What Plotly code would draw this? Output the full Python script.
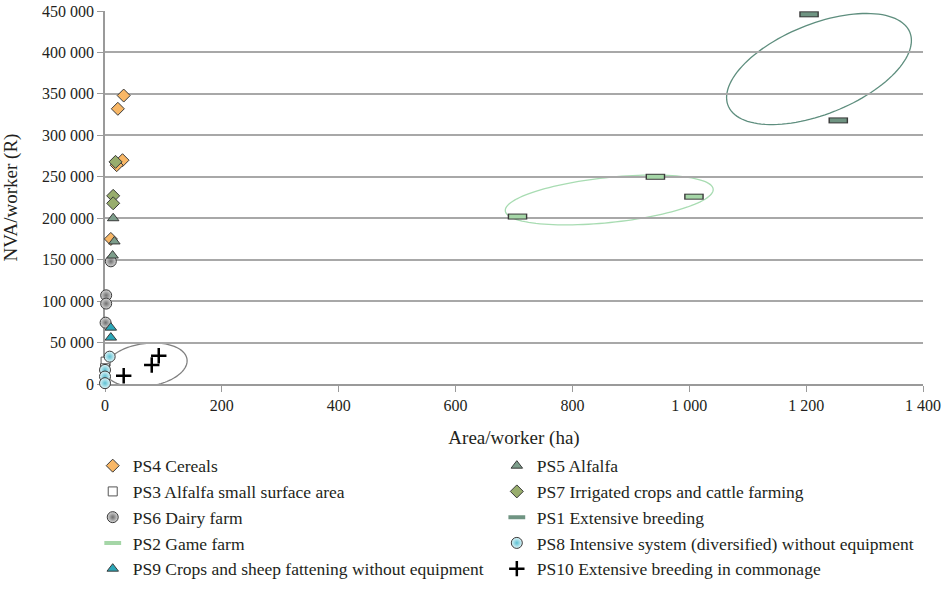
import numpy as np
import plotly.graph_objects as go

# Data: Area/worker (ha) vs NVA/worker (R)
ps4_x = [32, 22, 30, 20, 10]
ps4_y = [348000, 332000, 270000, 264000, 175000]

ps5_x = [14, 16, 13]
ps5_y = [200000, 172000, 155000]

ps3_x = [1, 0]
ps3_y = [27000, 19000]

ps7_x = [18, 14, 14]
ps7_y = [268000, 227000, 218000]

ps6_x = [10, 2, 2, 1]
ps6_y = [148000, 107000, 97000, 74000]

ps1_x = [1205, 1255]
ps1_y = [446000, 318000]

ps2_x = [706, 942, 1008]
ps2_y = [202000, 250000, 226000]

ps8_x = [8, 0, 0, 0]
ps8_y = [33000, 17000, 9000, 1000]

ps9_x = [10, 10]
ps9_y = [68000, 56000]

ps10_x = [32, 80, 92]
ps10_y = [10000, 23000, 34000]

x_ticks = [0, 200, 400, 600, 800, 1000, 1200, 1400]
y_ticks = list(range(0, 450001, 50000))

FONT = "Liberation Serif"
OUTLINE = "#3a3a3a"

fig = go.Figure()


def add_markers(x, y, name, symbol, color, legend, size=9, line_color=OUTLINE, line_width=1, gradient=None):
    marker = dict(symbol=symbol, color=color, size=size, line=dict(color=line_color, width=line_width))
    if gradient:
        marker["gradient"] = dict(type="radial", color=gradient)
    fig.add_trace(go.Scatter(x=x, y=y, mode="markers", name=name, marker=marker,
                             cliponaxis=False, legend=legend))


def add_bars(x, y, name, color, legend):
    # wide rectangle: dark outline bar under a coloured bar
    fig.add_trace(go.Scatter(x=x, y=y, mode="markers", name=name, showlegend=False, cliponaxis=False,
                             marker=dict(symbol="line-ew", size=14, line=dict(color=OUTLINE, width=6))))
    fig.add_trace(go.Scatter(x=x, y=y, mode="markers", name=name, cliponaxis=False, legend=legend,
                             marker=dict(symbol="line-ew", size=12, color=color, line=dict(color=color, width=4))))


# left legend column
add_markers(ps4_x, ps4_y, "PS4 Cereals", "diamond", "#F8B766", "legend", size=10)
add_markers(ps3_x, ps3_y, "PS3 Alfalfa small surface area", "square", "white", "legend", size=9,
            line_color="#555555")
add_markers(ps6_x, ps6_y, "PS6 Dairy farm", "circle", "#d8d8d8", "legend", size=11, gradient="#6e6e6e")
add_bars(ps2_x, ps2_y, "PS2 Game farm", "#A5D6A7", "legend")
add_markers(ps9_x, ps9_y, "PS9 Crops and sheep fattening without equipment", "triangle-up", "#2AA7B8",
            "legend", size=10)
# right legend column
add_markers(ps5_x, ps5_y, "PS5 Alfalfa", "triangle-up", "#7D9E8B", "legend2", size=10)
add_markers(ps7_x, ps7_y, "PS7 Irrigated crops and cattle farming", "diamond", "#98AD6D", "legend2", size=10)
add_bars(ps1_x, ps1_y, "PS1 Extensive breeding", "#6F9482", "legend2")
add_markers(ps8_x, ps8_y, "PS8 Intensive system (diversified) without equipment", "circle", "#e2f6f9",
            "legend2", size=11, gradient="#5CC0D2")
add_markers(ps10_x, ps10_y, "PS10 Extensive breeding in commonage", "cross-thin", "black", "legend2", size=11,
            line_color="black", line_width=2.5)

# Group ellipses: centre in data units, semi-axes in pixels, tilt in degrees
x_range = [0, 1400]
y_range = [0, 450000]
plot_w, plot_h = 818, 373
ellipses = [
    dict(cx=70, cy=22900, a=41.5, b=21.5, angle=8, color="#808080"),
    dict(cx=863, cy=222000, a=104.5, b=22.5, angle=6, color="#A8DCB2"),
    dict(cx=1222, cy=380000, a=98, b=45, angle=22, color="#5E8E7E"),
]
t = np.linspace(0, 2 * np.pi, 120)
for e in ellipses:
    th = np.radians(e["angle"])
    px = e["a"] * np.cos(t) * np.cos(th) - e["b"] * np.sin(t) * np.sin(th)
    py = e["a"] * np.cos(t) * np.sin(th) + e["b"] * np.sin(t) * np.cos(th)
    ex = e["cx"] + px * (x_range[1] - x_range[0]) / plot_w
    ey = e["cy"] + py * (y_range[1] - y_range[0]) / plot_h
    path = "M " + " L ".join(f"{a:.3f},{b:.3f}" for a, b in zip(ex, ey)) + " Z"
    fig.add_shape(type="path", path=path, xref="x", yref="y", layer="below",
                  line=dict(color=e["color"], width=1.3))

legend_style = dict(orientation="v", yanchor="top", y=-0.171, xanchor="left",
                    font=dict(size=17.5), tracegroupgap=0, bgcolor="rgba(0,0,0,0)")
fig.update_layout(
    width=952, height=598,
    margin=dict(l=105, r=29, t=11, b=214, autoexpand=False),
    plot_bgcolor="white", paper_bgcolor="white",
    separators=". ",
    font=dict(family=FONT, size=16, color="#231f20"),
    legend=dict(x=-0.015, **legend_style),
    legend2=dict(x=0.479, **legend_style),
)

fig.update_xaxes(range=x_range, tickvals=x_ticks, tickformat=",d", showgrid=False, zeroline=False,
                 showline=True, linecolor="#9a9a9a", linewidth=1.5, ticks="outside", ticklen=6,
                 tickcolor="#9a9a9a", layer="below traces", automargin=False,
                 title=dict(text="Area/worker (ha)", standoff=18))
fig.update_yaxes(range=y_range, tickvals=y_ticks, tickformat=",d", showgrid=True, gridcolor="#a8a8a8",
                 gridwidth=1.5, zeroline=False, showline=True, linecolor="#9a9a9a", linewidth=1.5,
                 ticks="outside", ticklen=6, tickcolor="#9a9a9a", layer="below traces", automargin=False,
                 ticklabeloverflow="allow", title=dict(text="NVA/worker (R)", standoff=21))

# drop the browser's default body margin so the figure fills the window
fig.write_html("out.html", config={"displayModeBar": False},
               post_script="document.body.style.margin='0';")
